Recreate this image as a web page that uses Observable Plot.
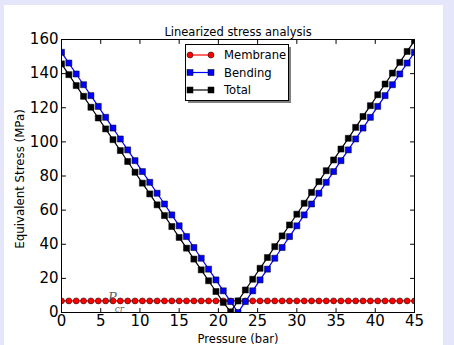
<!DOCTYPE html>
<html>
<head>
<meta charset="utf-8">
<script src="https://cdn.jsdelivr.net/npm/d3@7"></script>
<script src="https://cdn.jsdelivr.net/npm/@observablehq/plot@0.6"></script>
<style>
  html, body { margin: 0; padding: 0; }
  body { width: 454px; height: 345px; background: #e6e6fa; position: relative; overflow: hidden; font-family: "DejaVu Sans", sans-serif; }
  #fig { position: absolute; left: 4px; top: 5px; width: 439px; height: 340px; background: white; }
  #legend { position: absolute; left: 0; top: 0; pointer-events: none; }
</style>
</head>
<body>
<div id="fig"></div>
<svg id="legend" width="454" height="345"></svg>
<script>
const title = "Linearized stress analysis";
const xLabel = "Pressure (bar)";
const yLabel = "Equivalent Stress (MPa)";
const xTicks = [0, 5, 10, 15, 20, 25, 30, 35, 40, 45];
const yTicks = [0, 20, 40, 60, 80, 100, 120, 140, 160];
const seriesNames = ["Membrane", "Bending", "Total"];

const pressure = [0, 0.9375, 1.875, 2.8125, 3.75, 4.6875, 5.625, 6.5625, 7.5, 8.4375, 9.375, 10.3125, 11.25, 12.1875, 13.125, 14.0625, 15, 15.9375, 16.875, 17.8125, 18.75, 19.6875, 20.625, 21.5625, 22.5, 23.4375, 24.375, 25.3125, 26.25, 27.1875, 28.125, 29.0625, 30, 30.9375, 31.875, 32.8125, 33.75, 34.6875, 35.625, 36.5625, 37.5, 38.4375, 39.375, 40.3125, 41.25, 42.1875, 43.125, 44.0625, 45];

const membrane = [6.8, 6.8, 6.8, 6.8, 6.8, 6.8, 6.8, 6.8, 6.8, 6.8, 6.8, 6.8, 6.8, 6.8, 6.8, 6.8, 6.8, 6.8, 6.8, 6.8, 6.8, 6.8, 6.8, 6.8, 6.8, 6.8, 6.8, 6.8, 6.8, 6.8, 6.8, 6.8, 6.8, 6.8, 6.8, 6.8, 6.8, 6.8, 6.8, 6.8, 6.8, 6.8, 6.8, 6.8, 6.8, 6.8, 6.8, 6.8, 6.8];

const bending = [152.5, 146.2, 139.8, 133.5, 127.1, 120.8, 114.4, 108.1, 101.7, 95.3, 89.0, 82.6, 76.3, 69.9, 63.6, 57.2, 50.8, 44.5, 38.1, 31.8, 25.4, 19.1, 12.7, 6.4, 0.0, 6.4, 12.7, 19.1, 25.4, 31.8, 38.1, 44.5, 50.8, 57.2, 63.6, 69.9, 76.3, 82.6, 89.0, 95.3, 101.7, 108.1, 114.4, 120.8, 127.1, 133.5, 139.8, 146.2, 152.5];

const total = [145.7, 139.4, 133.0, 126.7, 120.3, 114.0, 107.6, 101.3, 94.9, 88.5, 82.2, 75.8, 69.5, 63.1, 56.8, 50.4, 44.0, 37.7, 31.3, 25.0, 18.6, 12.3, 5.9, 0.4, 6.8, 13.2, 19.5, 25.9, 32.2, 38.6, 44.9, 51.3, 57.6, 64.0, 70.4, 76.7, 83.1, 89.4, 95.8, 102.1, 108.5, 114.9, 121.2, 127.6, 133.9, 140.3, 146.6, 153.0, 159.3];

const pcrPressure = [6.5];
const pcrStress = [6.8];

const rows = pressure.map((p, i) => ({pressure: p, membrane: membrane[i], bending: bending[i], total: total[i]}));
const pcr = pcrPressure.map((p, i) => ({pressure: p, stress: pcrStress[i]}));

const tickShape = {draw(context, l) { context.moveTo(0, 0); context.lineTo(0, -l); }};
const ticksAt = (data, chan, frameAnchor, rotate) =>
  Plot.vector(data, {[chan]: d => d, frameAnchor, rotate, length: 4, anchor: "start", shape: tickShape, stroke: "black", strokeWidth: 1});

const chart = Plot.plot({
  width: 439,
  height: 340,
  marginLeft: 57,
  marginRight: 29,
  marginTop: 34,
  marginBottom: 33,
  style: {fontFamily: "DejaVu Sans", background: "white", color: "black", overflow: "visible"},
  x: {domain: [0, 45], label: null},
  y: {domain: [0, 160], label: null},
  marks: [
    Plot.line(rows, {x: "pressure", y: "membrane", stroke: "red", strokeWidth: 1.2, clip: true}),
    Plot.dot(rows, {x: "pressure", y: "membrane", r: 3, fill: "red", stroke: "black", strokeWidth: 0.5, clip: true}),
    Plot.line(rows, {x: "pressure", y: "bending", stroke: "blue", strokeWidth: 1.2, clip: true}),
    Plot.dot(rows, {x: "pressure", y: "bending", symbol: "square", r: 3.4, fill: "blue", stroke: "black", strokeWidth: 0.5, clip: true}),
    Plot.line(rows, {x: "pressure", y: "total", stroke: "black", strokeWidth: 1.2, clip: true}),
    Plot.dot(rows, {x: "pressure", y: "total", symbol: "square", r: 3.4, fill: "black", stroke: "black", strokeWidth: 0.5, clip: true}),
    Plot.text(pcr, {x: "pressure", y: "stress", text: () => "P", dy: -3, fontFamily: "DejaVu Serif", fontStyle: "italic", fontSize: 13, fill: "#444", fillOpacity: 0.85}),
    Plot.text(pcr, {x: "pressure", y: "stress", text: () => "cr", dx: 7, dy: 8, fontFamily: "DejaVu Serif", fontStyle: "italic", fontSize: 9, fill: "#444", fillOpacity: 0.85}),
    Plot.frame({stroke: "black", strokeWidth: 1}),
    Plot.axisX(xTicks, {anchor: "bottom", tickSize: 0, tickPadding: 3, fontSize: 15, label: null}),
    Plot.axisY(yTicks, {anchor: "left", tickSize: 0, tickPadding: 3, fontSize: 15, label: null}),
    ticksAt(xTicks, "x", "bottom", 0),
    ticksAt(xTicks, "x", "top", 180),
    ticksAt(yTicks, "y", "left", 90),
    ticksAt(yTicks, "y", "right", -90),
    Plot.text([title], {text: d => d, frameAnchor: "top", lineAnchor: "middle", dy: -7.5, fontSize: 11.5}),
    Plot.text([xLabel], {text: d => d, frameAnchor: "bottom", lineAnchor: "middle", dy: 27, fontSize: 11.5}),
    Plot.text([yLabel], {text: d => d, frameAnchor: "left", textAnchor: "middle", lineAnchor: "middle", rotate: -90, dx: -41, dy: 3, fontSize: 11.8})
  ]
});
document.getElementById("fig").appendChild(chart);

// legend
const lg = d3.select("#legend");
lg.append("rect").attr("x", 188).attr("y", 47).attr("width", 103).attr("height", 56).attr("fill", "#808080");
lg.append("rect").attr("x", 185.5).attr("y", 44.5).attr("width", 103).attr("height", 56).attr("fill", "white").attr("stroke", "black").attr("stroke-width", 1);
const legendStyles = [
  {stroke: "red", fill: "red", shape: "circle"},
  {stroke: "blue", fill: "blue", shape: "square"},
  {stroke: "black", fill: "black", shape: "square"}
];
seriesNames.forEach((name, i) => {
  const y = 55 + i * 17.5;
  const st = legendStyles[i];
  lg.append("line").attr("x1", 190).attr("x2", 211).attr("y1", y).attr("y2", y).attr("stroke", st.stroke).attr("stroke-width", 1.2);
  [190, 211].forEach(x => {
    if (st.shape === "circle") {
      lg.append("circle").attr("cx", x).attr("cy", y).attr("r", 3).attr("fill", st.fill).attr("stroke", "black").attr("stroke-width", 0.5);
    } else {
      lg.append("rect").attr("x", x - 3).attr("y", y - 3).attr("width", 6).attr("height", 6).attr("fill", st.fill).attr("stroke", "black").attr("stroke-width", 0.5);
    }
  });
  lg.append("text").attr("x", 224).attr("y", y).attr("dy", "0.35em").attr("font-family", "DejaVu Sans").attr("font-size", 11.6).text(name);
});
</script>
</body>
</html>
